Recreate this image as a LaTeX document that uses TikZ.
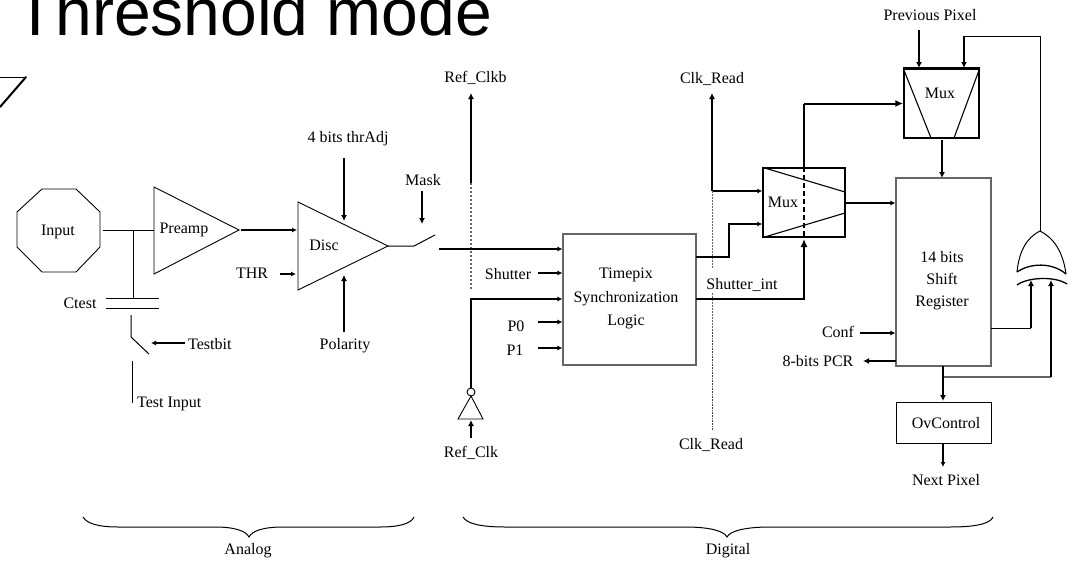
\documentclass[tikz,border=0pt]{standalone}
\usepackage{fontspec}
\setmainfont{Liberation Serif}
\newfontfamily\titlefont{Liberation Sans}
\usetikzlibrary{arrows.meta}
\tikzset{
  x=1pt,y=-1pt,
  lab/.style={inner sep=0pt,font=\fontsize{16}{22}\selectfont,text=black,align=center},
  thin line/.style={line width=1pt,black},
  grey line/.style={line width=1.2pt,black!60},
  med line/.style={line width=2pt,black},
  sig/.style={line width=1.6pt,black,-{Latex[length=5pt,width=5pt]}},
  bus/.style={line width=2.5pt,black,-{Latex[length=6pt,width=6pt]}},
  dot line/.style={line width=1.2pt,black!60,dash pattern=on 2pt off 2pt},
  rbox/.style={rectangle,draw=black!60,line width=1.1pt,fill=white,inner sep=0pt},
  muxbox/.style={rectangle,draw=black,line width=1.5pt,fill=white,inner sep=0pt},
  shape line/.style={draw=black,line width=0.9pt},
}
\begin{document}
\begin{tikzpicture}
\useasboundingbox (0,0) rectangle (1068,562);
\fill[white] (0,0) rectangle (1068,562);
\clip (0,0) rectangle (1068,562);
% title
\node[anchor=base west,inner sep=0pt,font=\titlefont\fontsize{66}{70}\selectfont] (title) at (15,35) {Threshold mode};
% corner mark
\draw[line width=1pt] (0,77) -- (26,77);
\draw[line width=2pt,line cap=round] (26,77) -- (0,107);
% input
\draw[shape line] (42,189) -- (76,189) -- (100,212) -- (100,247) -- (76,272) -- (42,272) -- (17,247) -- (17,212) -- cycle;
\node[lab] (input) at (58,232) {Input};
\coordinate (inOut) at (103,230);
% preamp
\coordinate (paT) at (154,187); \coordinate (paB) at (154,274); \coordinate (paO) at (239,230);
\coordinate (paI) at (154,230);
\draw[shape line] (paT) -- (paO) -- (paB) -- cycle;
\node[lab] (preamp) at (184,230) {Preamp};
\coordinate (j1) at (133,230);
\coordinate (capT) at (133,298);
\draw[thin line] (inOut) -- (paI);
\draw[thin line] (j1) -- (capT);
% ctest
\draw[thin line] (106,298) -- (159,298);
\draw[thin line] (106,308) -- (159,308);
\node[lab] (ctest) at (80,303) {Ctest};
\coordinate (capB) at (131,315); \coordinate (swA) at (131,337); \coordinate (swB) at (149,354);
\draw[thin line] (capB) -- (swA) -- (swB);
\coordinate (tiT) at (132,361); \coordinate (tiB) at (132,403);
\draw[thin line] (tiT) -- (tiB);
\node[lab,anchor=west] (testbit) at (188,344) {Testbit};
\coordinate (tbS) at (185,343); \coordinate (tbE) at (151,343);
\draw[line width=2pt,-{Latex[length=5pt,width=5pt]}] (tbS) -- (tbE);
\node[lab,anchor=west] (testin) at (137,404) {Test Input};
% disc
\coordinate (dT) at (298,202); \coordinate (dB) at (298,290); \coordinate (dO) at (388,246);
\coordinate (dI) at (297,230);
\draw[shape line] (dT) -- (dO) -- (dB) -- cycle;
\node[lab] (disc) at (324,245) {Disc};
\coordinate (paS) at (241,230);
\draw[line width=2pt,-{Latex[length=5pt,width=5pt]}] (paS) -- (dI);
\node[lab] (thr) at (252,273) {THR};
\coordinate (thrS) at (280,274); \coordinate (thrE) at (296,274);
\draw[line width=2pt,-{Latex[length=5pt,width=5pt]}] (thrS) -- (thrE);
\node[lab] (thradj) at (348,139) {4 bits thrAdj};
\coordinate (taS) at (344,158); \coordinate (taE) at (344,221);
\draw[bus] (taS) -- (taE);
\node[lab] (polarity) at (345,346) {Polarity};
\coordinate (poS) at (344,332); \coordinate (poE) at (344,275);
\draw[bus] (poS) -- (poE);
\node[lab] (mask) at (423,180) {Mask};
\coordinate (maS) at (422,191); \coordinate (maE) at (422,224);
\draw[bus] (maS) -- (maE);
\coordinate (sw1) at (414,246); \coordinate (sw2) at (435,235);
\draw[thin line] (dO) -- (sw1) -- (sw2);
% sync
\node[rbox,minimum width=133pt,minimum height=131pt] (sync) at (629.5,299.5) {};
\node[lab,font=\fontsize{16}{23.5}\selectfont] (synctext) at (626,298.5) {Timepix\hspace{8pt}\\Synchronization\\Logic};
% ref clk dotted first
\node[lab] (refclkb) at (475.5,78) {Ref\_Clkb};
\coordinate (rcbB) at (471,183); \coordinate (rcbT) at (471,93); \coordinate (rcbD) at (471,290);
\draw[bus] (rcbB) -- (rcbT);
\draw[dot line] (rcbB) -- (rcbD);
% sync inputs
\coordinate (swOut) at (439,249);
\draw[line width=2.2pt,-{Latex[length=5pt,width=5pt]}] (swOut) -- (sync.west |- swOut);
\node[lab] (shutter) at (508,274) {Shutter};
\coordinate (shS) at (538,273);
\draw[line width=2.2pt,-{Latex[length=5pt,width=5pt]}] (shS) -- (sync.west |- shS);
\node[lab] (p0) at (516,326) {P0};
\coordinate (p0S) at (538,322);
\draw[line width=2.2pt,-{Latex[length=5pt,width=5pt]}] (p0S) -- (sync.west |- p0S);
\node[lab] (p1) at (515,350) {P1};
\coordinate (p1S) at (538,348);
\draw[line width=2.2pt,-{Latex[length=5pt,width=5pt]}] (p1S) -- (sync.west |- p1S);
% inverter
\coordinate (invO) at (471,388); \coordinate (rcC) at (471,299);
\draw[line width=2pt,-{Latex[length=5pt,width=5pt]}] (invO) -- (rcC) -- (sync.west |- rcC);
\draw[shape line] (471,396) -- (483,419) -- (458,419) -- cycle;
\node[circle,draw=black,line width=0.9pt,inner sep=0pt,minimum size=8pt] (bubble) at (471,392) {};
\coordinate (rcS) at (471,438); \coordinate (rcE) at (471,420);
\draw[bus] (rcS) -- (rcE);
\node[lab] (refclk) at (471,453) {Ref\_Clk};
% mux1
\node[muxbox,minimum width=82pt,minimum height=69pt,line width=1.4pt] (mux1) at (804,202.5) {};
\draw[line width=1.1pt] (mux1.north west) -- (845,192);
\draw[line width=1.1pt] (mux1.south west) -- (845,213);
\node[lab] (mux1text) at (783,202) {Mux};
\draw[line width=1.2pt,dash pattern=on 5pt off 3pt] (mux1.north) -- (mux1.south);
% clk read
\node[lab] (clkr1) at (712,79) {Clk\_Read};
\node[lab] (clkr2) at (711,445) {Clk\_Read};
\coordinate (crJ) at (712,191); \coordinate (crT) at (712,93);
\draw[bus] (crJ) -- (crT);
\draw[line width=2.5pt,-{Latex[length=5pt,width=5pt]}] (crJ) -- (mux1.west |- crJ);
\coordinate (cd1) at (712,268); \coordinate (cd2) at (712,293); \coordinate (cd3) at (712,330); \coordinate (cd4) at (712,430);
\draw[dot line,line width=1pt,dash pattern=on 1.5pt off 1.5pt] (crJ) -- (cd1);
\draw[dot line,line width=1pt,dash pattern=on 1.5pt off 1.5pt] (cd2) -- (cd3);
\draw[line width=1pt,black!75,dash pattern=on 1pt off 0.6pt] (cd3) -- (cd4);
% mux2
\node[muxbox,minimum width=75pt,minimum height=69pt] (mux2) at (941.5,103.5) {};
\draw[line width=2pt] (mux2.north west) -- (mux2.north east);
\draw[line width=1.1pt] (mux2.north west) -- (931,138);
\draw[line width=1.1pt] (mux2.north east) -- (954,138);
\node[lab] (mux2text) at (940,93) {Mux};
\coordinate (m12) at (804,103.5);
\draw[line width=1.3pt] (mux1.north) -- (m12);
\draw[line width=2pt,-{Latex[length=8pt,width=7pt]}] (m12) -- (mux2.west);
% sync outputs
\coordinate (s1) at (696,257); \coordinate (s2) at (729,257); \coordinate (s3) at (729,224);
\draw[line width=2pt,-{Latex[length=5pt,width=5pt]}] (s1) -- (s2) -- (s3) -- (mux1.west |- s3);
\coordinate (s4) at (696,299); \coordinate (s5) at (804,299); \coordinate (s6) at (804,239);
\draw[line width=2pt,-{Latex[length=8pt,width=7pt]}] (s4) -- (s5) -- (s6);
\node[lab] (sint) at (742,285) {Shutter\_int};
% shift register
\node[rbox,minimum width=95pt,minimum height=188pt] (sr) at (943.5,272) {};
\node[lab] (srtext) at (942,281) {14 bits\\Shift\\Register};
\coordinate (m1o) at (846,203);
\draw[line width=2.5pt,-{Latex[length=5pt,width=5pt]}] (m1o) -- (sr.west |- m1o);
\coordinate (m2o) at (942,140); \coordinate (srt) at (942,178);
\draw[bus] (m2o) -- (srt);
\node[lab] (prev) at (930,15) {Previous Pixel};
\coordinate (ppS) at (919,30); \coordinate (ppE) at (919,68);
\draw[bus] (ppS) -- (ppE);
% OR gate
\coordinate (orT) at (1040,231);
\draw[line width=1pt] (1017,272) .. controls (1019,252) and (1026,238) .. (orT) .. controls (1054,238) and (1063,252) .. (1066,274);
\draw[line width=1.3pt] (1017,272) .. controls (1030,263) and (1052,262) .. (1066,274);
\draw[line width=1.3pt] (1017,285) .. controls (1028,277) and (1055,276) .. (1067,284);
\coordinate (fbA) at (1040,36); \coordinate (fbB) at (964,36); \coordinate (fbC) at (964,68);
\draw[thin line] (orT) -- (fbA) -- (fbB);
\draw[bus] (fbB) -- (fbC);
% sr outputs
\coordinate (o1) at (991,328); \coordinate (o2) at (1031,328); \coordinate (o3) at (1031,280);
\draw[thin line] (o1) -- (o2);
\draw[bus] (o2) -- (o3);
\coordinate (p1a) at (943,377); \coordinate (p1b) at (1051,377); \coordinate (p1c) at (1051,280);
\draw[grey line] (p1a) -- (p1b);
\draw[bus] (p1b) -- (p1c);
% conf, pcr
\node[lab] (conf) at (838,332) {Conf};
\coordinate (coS) at (860,333);
\draw[sig] (coS) -- (sr.west |- coS);
\node[lab] (pcr) at (818,361) {8-bits PCR};
\coordinate (pcS) at (896,361); \coordinate (pcE) at (863,361);
\draw[bus] (pcS) -- (pcE);
% ov
\node[rectangle,draw=black,line width=1pt,inner sep=0pt,minimum width=95pt,minimum height=41pt] (ov) at (943.5,422.5) {};
\node[lab] (ovtext) at (946,423) {OvControl};
\coordinate (srb) at (943,366); \coordinate (ovt) at (943,401);
\draw[bus] (srb) -- (ovt);
\coordinate (ovb) at (943,443); \coordinate (nx) at (943,467);
\draw[sig] (ovb) -- (nx);
\node[lab] (next) at (946,480) {Next Pixel};
% braces
\draw[thin line] (83,517) .. controls (87,524) and (100,527) .. (118,527) -- (215,527) .. controls (235,527) and (246,531) .. (249,537) .. controls (252,531) and (263,527) .. (283,527) -- (380,527) .. controls (398,527) and (411,524) .. (414,517);
\node[lab] (analog) at (248,551) {Analog};
\draw[thin line] (463,517) .. controls (467,524) and (482,527) .. (505,527) -- (685,527) .. controls (710,527) and (724,531) .. (727,537) .. controls (730,531) and (745,527) .. (770,527) -- (950,527) .. controls (975,527) and (990,524) .. (993,517);
\node[lab] (digital) at (728,551) {Digital};
\end{tikzpicture}
\end{document}
